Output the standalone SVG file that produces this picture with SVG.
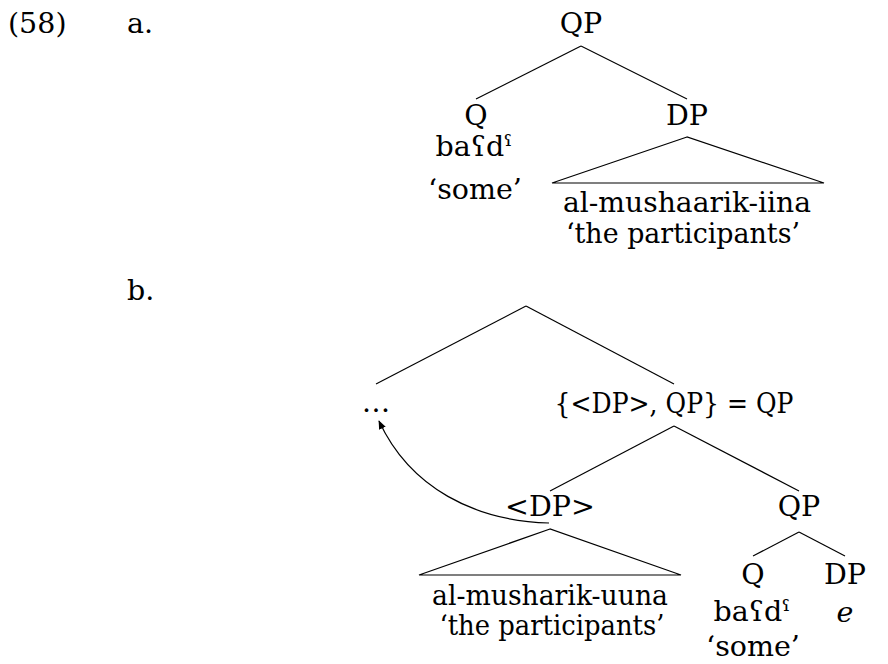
<svg xmlns="http://www.w3.org/2000/svg" width="888" height="664" viewBox="0 0 888 664">
<style>
text{font-family:"DejaVu Serif","Liberation Serif",serif;font-size:28.5px;fill:#000;text-anchor:middle}
.l{text-anchor:start}
.it{font-style:italic}
line,polyline,path{stroke:#000;stroke-width:1.2;fill:none}
</style>
<defs>
<marker id="ah" viewBox="0 0 10 10" refX="9" refY="5" markerWidth="9" markerHeight="9" orient="auto" markerUnits="userSpaceOnUse">
<path d="M0,1 L10,5 L0,9 z" style="fill:#000;stroke:none"/>
</marker>
</defs>
<g id="labels">
<text class="l" x="8" y="33">(58)</text>
<text class="l" x="127" y="33">a.</text>
<text class="l" x="127" y="300">b.</text>
</g>
<g id="connectors">
<line x1="581" y1="46" x2="476" y2="99"/>
<line x1="581" y1="46" x2="687" y2="99"/>
<polygon points="687,137 552,183 824,183" style="stroke:#000;stroke-width:1.2;fill:none"/>
<line x1="526" y1="306" x2="376" y2="384"/>
<line x1="526" y1="306" x2="674" y2="384"/>
<line x1="674" y1="426" x2="550" y2="491"/>
<line x1="674" y1="426" x2="799" y2="491"/>
<polygon points="550,529 419,575 681,575" style="stroke:#000;stroke-width:1.2;fill:none"/>
<line x1="799" y1="532" x2="753" y2="556"/>
<line x1="799" y1="532" x2="845" y2="556"/>
<path d="M549,523 C475,521 410,488 379,421" marker-end="url(#ah)"/>
</g>
<g id="a-QP"><text x="581" y="33">QP</text></g>
<g id="a-Q"><text x="476" y="125">Q</text><text x="474" y="156">baʕdˤ</text><text x="475" y="199">‘some’</text></g>
<g id="a-DP"><text x="687" y="212" textLength="248" lengthAdjust="spacingAndGlyphs">al-mushaarik-iina</text><text x="687" y="125">DP</text><text x="683" y="243" textLength="234" lengthAdjust="spacingAndGlyphs">‘the participants’</text></g>
<g id="b-dots"><text x="376" y="412">…</text></g>
<g id="b-QPset"><text x="674" y="413" textLength="239" lengthAdjust="spacingAndGlyphs">{&lt;DP&gt;, QP} = QP</text></g>
<g id="b-DP"><text x="550" y="516">&lt;DP&gt;</text><text x="550" y="605" textLength="236" lengthAdjust="spacingAndGlyphs">al-musharik-uuna</text><text x="552" y="635" textLength="225" lengthAdjust="spacingAndGlyphs">‘the participants’</text></g>
<g id="b-QP"><text x="799" y="516">QP</text></g>
<g id="b-Q"><text x="753" y="584">Q</text><text x="752" y="621">baʕdˤ</text><text x="753" y="656">‘some’</text></g>
<g id="b-DPe"><text x="845" y="584">DP</text><text class="it" x="845" y="622">e</text></g>
</svg>
